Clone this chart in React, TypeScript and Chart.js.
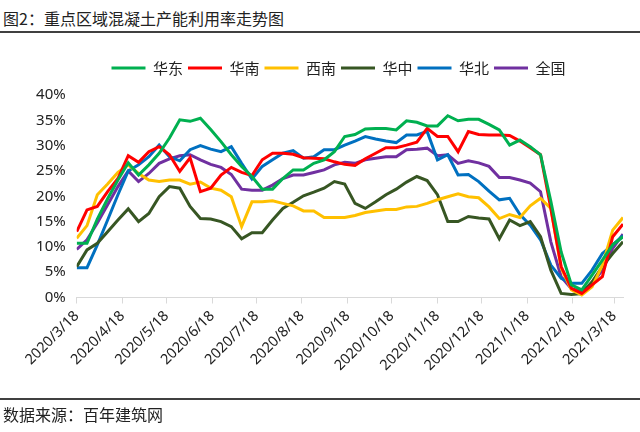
import React, { useEffect, useRef } from 'react';
import { Chart, registerables } from 'chart.js';

Chart.register(...registerables);

const dates = [
  '2020/3/18', '2020/3/25', '2020/4/1', '2020/4/8', '2020/4/15', '2020/4/22', '2020/4/29',
  '2020/5/6', '2020/5/13', '2020/5/20', '2020/5/27', '2020/6/3', '2020/6/10', '2020/6/17',
  '2020/6/24', '2020/7/1', '2020/7/8', '2020/7/15', '2020/7/22', '2020/7/29', '2020/8/5',
  '2020/8/12', '2020/8/19', '2020/8/26', '2020/9/2', '2020/9/9', '2020/9/16', '2020/9/23',
  '2020/9/30', '2020/10/7', '2020/10/14', '2020/10/21', '2020/10/28', '2020/11/4', '2020/11/11',
  '2020/11/18', '2020/11/25', '2020/12/2', '2020/12/9', '2020/12/16', '2020/12/23', '2020/12/30',
  '2021/1/6', '2021/1/13', '2021/1/20', '2021/1/27', '2021/2/3', '2021/2/10', '2021/2/17',
  '2021/2/24', '2021/3/3', '2021/3/10', '2021/3/17', '2021/3/24',
];

const tickLabels = [
  '2020/3/18', '2020/4/18', '2020/5/18', '2020/6/18', '2020/7/18', '2020/8/18', '2020/9/18',
  '2020/10/18', '2020/11/18', '2020/12/18', '2021/1/18', '2021/2/18', '2021/3/18',
];

const huadong = [
  10.7, 10.7, 15.5, 19.5, 23.2, 26.6, 24.2, 26.2, 28.5, 31.5, 35.1, 34.8, 35.4, 33.2,
  30.8, 28.2, 25.9, 23.9, 21.4, 21.4, 23.5, 25.2, 25.2, 26.5, 27.2, 28.8, 31.8, 32.2,
  33.3, 33.4, 33.4, 33.1, 34.9, 34.6, 33.9, 33.9, 35.9, 34.9, 35.2, 35.2, 34.2, 33.1,
  30.1, 31.1, 29.8, 28.2, 19.0, 9.0, 2.5, 1.5, 4.4, 7.4, 10.4, 12.0,
];
const huanan = [
  13.0, 17.3, 18.0, 20.9, 23.5, 28.0, 26.7, 28.8, 29.8, 28.2, 24.9, 27.6, 20.9, 21.6,
  24.2, 25.7, 24.7, 24.1, 27.2, 28.5, 28.5, 28.3, 27.6, 27.5, 27.4, 26.8, 26.3, 26.1,
  27.4, 28.5, 29.6, 29.6, 30.1, 30.7, 33.4, 31.8, 31.8, 28.8, 32.8, 32.2, 32.1, 32.1,
  32.0, 30.9, 29.6, 28.2, 17.6, 6.1, 1.8, 0.8, 2.5, 4.1, 12.0, 14.5,
];
const xinan = [
  11.7, 14.2, 20.3, 22.4, 24.7, 26.2, 24.5, 23.2, 22.9, 23.2, 23.2, 22.4, 22.8, 21.6,
  21.2, 19.9, 14.0, 18.9, 18.9, 19.1, 18.6, 18.1, 17.1, 17.1, 15.8, 15.8, 15.8, 16.2,
  16.8, 17.1, 17.4, 17.4, 17.9, 18.0, 18.6, 19.3, 19.9, 20.5, 19.9, 19.7, 17.9, 15.6,
  16.4, 15.8, 18.1, 19.6, 17.6, 5.8, 1.5, 0.5, 2.1, 6.4, 13.3, 15.8,
];
const huazhong = [
  6.1, 9.4, 10.7, 13.0, 15.3, 17.5, 15.0, 16.6, 19.9, 21.9, 21.6, 18.0, 15.6, 15.5,
  15.0, 14.0, 11.6, 12.8, 12.8, 15.3, 17.6, 18.8, 20.1, 20.8, 21.6, 22.9, 22.4, 18.6,
  17.6, 18.9, 20.3, 21.4, 22.8, 23.9, 23.1, 20.3, 15.0, 15.0, 16.0, 15.7, 15.5, 11.6,
  15.3, 14.2, 15.0, 12.0, 5.4, 0.8, 0.6, 0.8, 3.1, 6.1, 8.7, 11.0,
];
const huabei = [
  5.9, 5.9, 10.4, 15.3, 20.3, 25.0, 26.2, 27.8, 30.1, 27.8, 27.0, 29.2, 30.0, 29.3,
  28.8, 29.8, 26.5, 23.4, 25.9, 27.2, 28.5, 29.0, 27.5, 27.8, 29.2, 29.2, 30.1, 30.9,
  31.8, 31.3, 30.9, 30.6, 32.1, 32.1, 32.8, 27.2, 28.2, 24.2, 24.3, 22.9, 21.0, 19.3,
  19.6, 16.4, 14.3, 11.4, 6.4, 3.8, 2.8, 2.8, 5.4, 8.7, 10.4, 12.2,
];
const quanguo = [
  9.5, 11.4, 14.7, 18.3, 21.9, 25.0, 22.9, 24.5, 26.5, 27.4, 28.0, 28.2, 27.2, 26.3,
  25.7, 24.3, 21.4, 21.2, 21.2, 22.2, 23.5, 24.2, 24.2, 24.7, 25.2, 26.2, 26.7, 26.5,
  27.2, 27.5, 27.8, 27.8, 29.2, 29.3, 29.5, 28.0, 28.2, 26.5, 27.0, 26.6, 25.9, 23.7,
  23.7, 23.2, 22.6, 20.9, 11.0, 4.1, 1.7, 1.3, 2.8, 5.4, 9.7, 12.5,
];

const seriesNames = ['华东', '华南', '西南', '华中', '华北', '全国'];
const seriesColors = ['#00B050', '#FF0000', '#FFC000', '#375623', '#0070C0', '#7030A0'];
const seriesValues = [huadong, huanan, xinan, huazhong, huabei, quanguo];

const FONT = '"Noto Sans", "Noto Sans CJK SC", sans-serif';
const CJK = '"Noto Sans CJK SC", "Noto Sans", sans-serif';

const BASE = Date.UTC(2020, 2, 18);
const toDay = (s: string) => {
  const [y, m, d] = s.split('/').map(Number);
  return Math.round((Date.UTC(y, m - 1, d) - BASE) / 86400000);
};

export default function App() {
  const ref = useRef<HTMLCanvasElement>(null);

  useEffect(() => {
    if (!ref.current) return;
    const days = dates.map(toDay);
    const tickDays = tickLabels.map(toDay);

    const legendAdjust = {
      id: 'legendAdjust',
      beforeInit(chart: any) {
        const orig = chart.legend.fit;
        chart.legend.fit = function () {
          orig.call(this);
          this.height += 9.5;
        };
      },
      afterLayout(chart: any) {
        const lg = chart.legend;
        if (lg) {
          lg.left += 27;
          lg.right += 27;
        }
      },
    };

    const chart = new Chart(ref.current, {
      type: 'line',
      data: {
        datasets: seriesNames.map((name, k) => ({
          label: name,
          data: seriesValues[k].map((v, i) => ({ x: days[i], y: v })),
          borderColor: seriesColors[k],
          backgroundColor: seriesColors[k],
          borderWidth: 3,
          pointRadius: 0,
          tension: 0,
        })),
      },
      options: {
        animation: false,
        responsive: false,
        devicePixelRatio: 1,
        layout: { padding: { left: 0, right: 17, top: 55.5, bottom: 34.5 } },
        plugins: {
          legend: {
            position: 'top',
            labels: {
              usePointStyle: true,
              pointStyle: 'line',
              pointStyleWidth: 34,
              padding: 5,
              color: '#222',
              font: { size: 15, family: CJK },
            },
          },
          tooltip: { enabled: false },
        },
        scales: {
          x: {
            type: 'linear',
            min: 0,
            max: days[days.length - 1],
            afterBuildTicks: (s: any) => {
              s.ticks = tickDays.map((v) => ({ value: v }));
            },
            afterFit: (s: any) => {
              s.height = 100;
              s.paddingLeft = 0;
              s.paddingRight = 0;
            },
            ticks: {
              autoSkip: false,
              minRotation: 45,
              maxRotation: 45,
              padding: 4,
              color: '#222',
              font: { size: 14.5, family: FONT },
              callback: (_v: any, i: number) => tickLabels[i],
            },
            grid: {
              display: true,
              drawOnChartArea: false,
              drawTicks: true,
              tickLength: 6,
              color: '#d9d9d9',
            },
            border: { display: true, color: '#d9d9d9', width: 1 },
          },
          y: {
            min: 0,
            max: 40,
            afterFit: (s: any) => {
              s.width = 76.7;
              s.paddingTop = 0;
              s.paddingBottom = 0;
            },
            ticks: {
              stepSize: 5,
              padding: 11,
              color: '#222',
              font: { size: 15, family: FONT },
              callback: (v: any) => v + '%',
            },
            grid: { display: false, drawTicks: false },
            border: { display: false },
          },
        },
      } as any,
      plugins: [legendAdjust],
    });
    return () => chart.destroy();
  }, []);

  return (
    <div style={{ position: 'absolute', left: 0, top: 0, width: 640, height: 432, background: '#fff', overflow: 'hidden' }}>
      <div style={{ position: 'absolute', left: 3, top: 7, fontFamily: CJK, fontSize: 16, lineHeight: '22px', color: '#222', whiteSpace: 'nowrap' }}>
        图2：重点区域混凝土产能利用率走势图
      </div>
      <div style={{ position: 'absolute', left: 0, top: 31, width: 640, height: 2, background: '#404040' }} />
      <canvas ref={ref} width={640} height={432} style={{ position: 'absolute', left: 0, top: 0, width: 640, height: 432 }} />
      <div style={{ position: 'absolute', left: 0, top: 398, width: 640, height: 2, background: '#404040' }} />
      <div style={{ position: 'absolute', left: 3, top: 403, fontFamily: CJK, fontSize: 16, lineHeight: '22px', color: '#222', whiteSpace: 'nowrap' }}>
        数据来源：百年建筑网
      </div>
    </div>
  );
}
